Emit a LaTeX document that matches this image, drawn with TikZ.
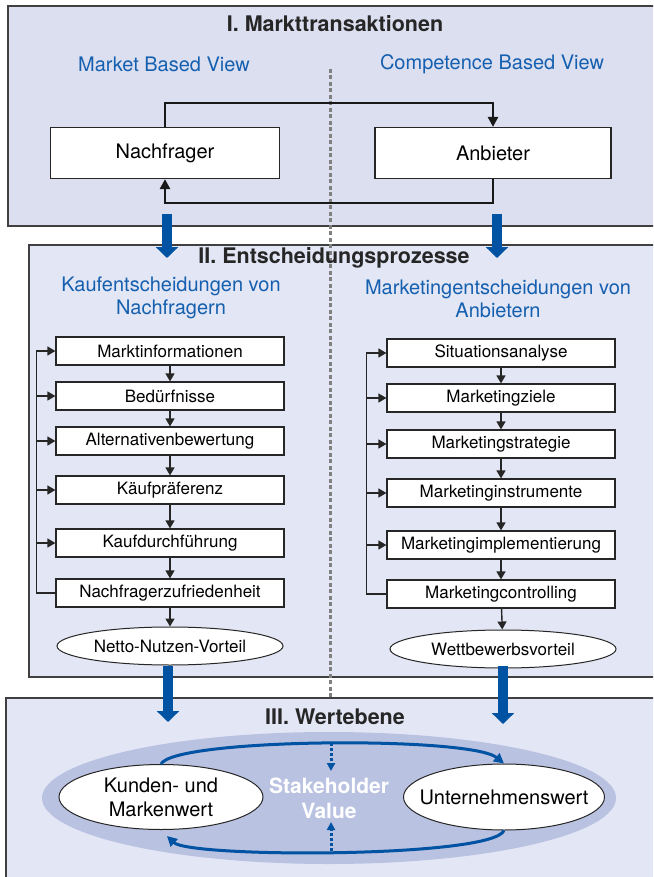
\documentclass[tikz,border=0pt]{standalone}
\usepackage{fontspec}
\setmainfont{TeX Gyre Heros}
\usetikzlibrary{positioning,shapes.geometric,arrows.meta}

\definecolor{panelone}{RGB}{220,223,240}
\definecolor{paneltwo}{RGB}{227,230,244}
\definecolor{viewblue}{RGB}{20,95,175}
\definecolor{flowblue}{RGB}{0,82,162}
\definecolor{valuefill}{RGB}{186,194,226}

\begin{document}
\begin{tikzpicture}
		[
			x=1pt, y=-1pt,
			>={Triangle[length=8pt,width=9pt]},
			panel/.style={draw=black!75, line width=1.5pt},
			headline/.style={font=\fontsize{21.5}{24}\selectfont\bfseries, text=black!85},
			viewlabel/.style={font=\fontsize{20}{23}\selectfont, text=viewblue, align=center},
			actor/.style={draw=black!85, fill=white, line width=1.2pt, minimum height=51pt, inner sep=0pt, font=\fontsize{20}{23}\selectfont},
			stepbox/.style={draw=black!85, fill=white, line width=1.2pt, minimum width=228pt, minimum height=28pt, inner sep=0pt, font=\fontsize{17}{19}\selectfont},
			resultell/.style={ellipse, draw=black!85, fill=white, line width=1pt, minimum width=226pt, minimum height=38pt, inner sep=0pt, font=\fontsize{17}{19}\selectfont},
			valueell/.style={ellipse, draw=black!85, fill=white, line width=1pt, minimum height=66pt, inner sep=0pt, align=center, font=\fontsize{20}{24}\selectfont},
			loopline/.style={draw=black!90, line width=2.5pt, ->, >={Triangle[length=10pt,width=10pt]}},
			stepline/.style={draw=black!85, line width=1.4pt, ->},
			bigflow/.style={draw=flowblue, line width=10pt, -{Triangle[length=11pt,width=22pt]}},
			valueflow/.style={draw=flowblue, line width=3pt, -{Triangle[length=10pt,width=10pt]}},
			dotflow/.style={draw=flowblue, line width=3pt, dash pattern=on 3pt off 2pt, -{Triangle[length=8pt,width=8pt]}},
			divider/.style={draw=black!50, line width=3pt, dash pattern=on 4pt off 2.5pt}
		]

		\clip (0,0) rectangle (653,877);

		% panels
		\filldraw[panel, fill=panelone] (8,6) rectangle (670,226);
		\filldraw[panel, fill=paneltwo] (29,245) rectangle (670,677);
		\filldraw[panel, fill=paneltwo] (6,698) rectangle (670,900);

		\coordinate (divtop) at (330,69);
		\coordinate (divbot) at (330,698);
		\draw[divider] (divtop) -- (divbot);

		% I. Markttransaktionen
		\node[headline] (title1) at (335,24) {I. Markttransaktionen};
		\node[viewlabel] (mbv) at (164,64) {Market Based View};
		\node[viewlabel] (cbv) at (492,64) {Competence Based View};

		\node[actor, minimum width=229pt] (nachfrager) at (165,153) {Nachfrager};
		\node[actor, minimum width=236pt] (anbieter) at (493,153) {Anbieter};

		\draw[loopline] (nachfrager.north) -- ++(0,-24) -| (anbieter.north);
		\draw[loopline] (anbieter.south) -- ++(0,24) -| (nachfrager.south);

		% II. Entscheidungsprozesse
		\node[headline] (title2) at (334,258) {II. Entscheidungsprozesse};
		\node[viewlabel] (kaufhead) at (171,298) {Kaufentscheidungen von\\Nachfragern};
		\node[viewlabel] (mkthead) at (498,299) {Marketingentscheidungen von\\Anbietern};

		\node[stepbox] (kauf1) at (170,351) {Marktinformationen};
		\node[stepbox] (kauf2) at (170,396) {Bedürfnisse};
		\node[stepbox] (kauf3) at (170,441) {Alternativenbewertung};
		\node[stepbox] (kauf4) at (170,490) {Käufpräferenz};
		\node[stepbox] (kauf5) at (170,543) {Kaufdurchführung};
		\node[stepbox] (kauf6) at (170,593) {Nachfragerzufriedenheit};
		\node[resultell] (nutzen) at (170,646) {Netto-Nutzen-Vorteil};

		\node[stepbox] (mkt1) at (501,353) {Situationsanalyse};
		\node[stepbox] (mkt2) at (501,398) {Marketingziele};
		\node[stepbox] (mkt3) at (501,444) {Marketingstrategie};
		\node[stepbox] (mkt4) at (501,493) {Marketinginstrumente};
		\node[stepbox] (mkt5) at (501,545) {Marketingimplementierung};
		\node[stepbox] (mkt6) at (501,594) {Marketingcontrolling};
		\node[resultell] (vorteil) at (503,649) {Wettbewerbsvorteil};

		\draw[stepline] (kauf1) -- (kauf2);
		\draw[stepline] (kauf2) -- (kauf3);
		\draw[stepline] (kauf3) -- (kauf4);
		\draw[stepline] (kauf4) -- (kauf5);
		\draw[stepline] (kauf5) -- (kauf6);
		\draw[stepline] (kauf6) -- (nutzen);

		\draw[stepline] (mkt1) -- (mkt2);
		\draw[stepline] (mkt2) -- (mkt3);
		\draw[stepline] (mkt3) -- (mkt4);
		\draw[stepline] (mkt4) -- (mkt5);
		\draw[stepline] (mkt5) -- (mkt6);
		\draw[stepline] (mkt6) -- (vorteil);

		% feedback
		\draw[stepline] (kauf6.west) -- ++(-19,0) coordinate (kaufback) |- (kauf1.west);
		\draw[stepline] (kaufback |- kauf2.west) -- (kauf2.west);
		\draw[stepline] (kaufback |- kauf3.west) -- (kauf3.west);
		\draw[stepline] (kaufback |- kauf4.west) -- (kauf4.west);
		\draw[stepline] (kaufback |- kauf5.west) -- (kauf5.west);

		\draw[stepline] (mkt6.west) -- ++(-20,0) coordinate (mktback) |- (mkt1.west);
		\draw[stepline] (mktback |- mkt2.west) -- (mkt2.west);
		\draw[stepline] (mktback |- mkt3.west) -- (mkt3.west);
		\draw[stepline] (mktback |- mkt4.west) -- (mkt4.west);
		\draw[stepline] (mktback |- mkt5.west) -- (mkt5.west);

		% III. Wertebene
		\node[headline] (title3) at (335,717) {III. Wertebene};
		\node[ellipse, fill=valuefill, minimum width=574pt, minimum height=132pt, inner sep=0pt, align=center,
			font=\fontsize{21}{25}\selectfont\bfseries, text=white] (valuefield) at (329,798) {Stakeholder\\Value};
		\node[valueell, minimum width=204pt, minimum height=65pt] (kunden) at (161,797) {Kunden- und\\Markenwert};
		\node[valueell, minimum width=201pt, inner xsep=-40pt] (unternehmen) at (504,797) {Unternehmenswert};

		\draw[valueflow] (kunden.north) .. controls (175,738) and (470,736) .. (unternehmen.north);
		\draw[valueflow] (unternehmen.south) .. controls (492,858) and (190,858) .. (167,836);

		\coordinate (svtop) at (331,743);
		\coordinate (svtoptip) at (331,771);
		\coordinate (svbot) at (331,851);
		\coordinate (svbottip) at (331,822);
		\draw[dotflow] (svtop) -- (svtoptip);
		\draw[dotflow] (svbot) -- (svbottip);

		% blue transitions
		\coordinate (flowA1) at (167,214);
		\coordinate (flowA2) at (167,258);
		\coordinate (flowB1) at (497,214);
		\coordinate (flowB2) at (497,258);
		\coordinate (flowC1) at (168,666);
		\coordinate (flowC2) at (168,722);
		\coordinate (flowD1) at (503,666);
		\coordinate (flowD2) at (503,724);
		\draw[bigflow] (flowA1) -- (flowA2);
		\draw[bigflow] (flowB1) -- (flowB2);
		\draw[bigflow] (flowC1) -- (flowC2);
		\draw[bigflow] (flowD1) -- (flowD2);
	\end{tikzpicture}
\end{document}
